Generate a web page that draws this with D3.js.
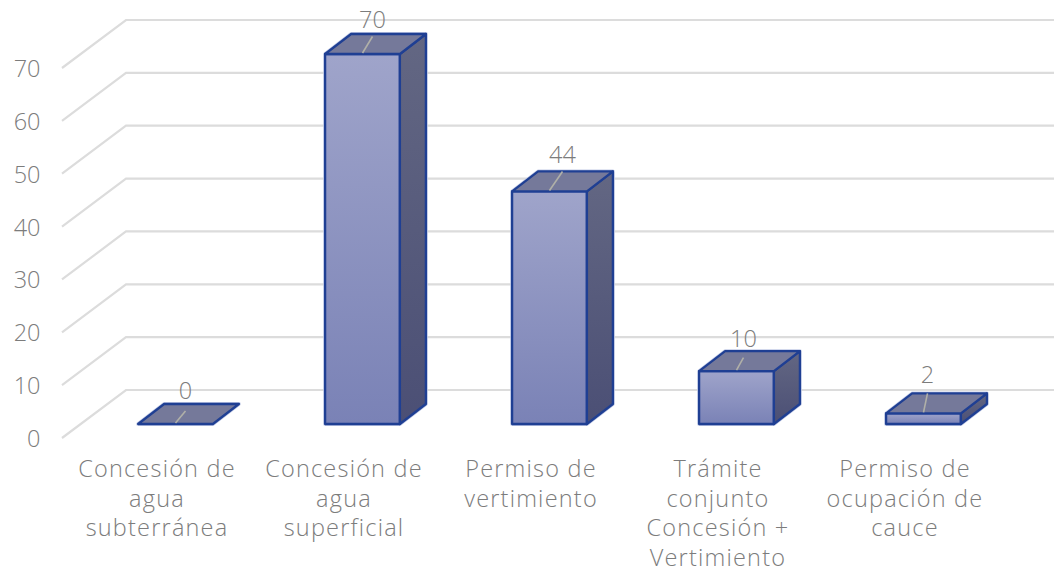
<!DOCTYPE html>
<html><head><meta charset="utf-8">
<script src="https://cdn.jsdelivr.net/npm/d3@7"></script>
<style>html,body{margin:0;padding:0;background:#fff}svg{display:block}
text{font-family:"Open Sans",sans-serif;font-weight:300;fill:#7c7c7c}</style></head><body>
<svg id="c" width="1054" height="568"></svg>
<script>
const categories=[["Concesión de","agua","subterránea"],["Concesión de","agua","superficial"],["Permiso de","vertimiento"],["Trámite","conjunto","Concesión +","Vertimiento"],["Permiso de","ocupación de","cauce"]];
const values=[0,70,44,10,2];
const yTicks=[0,10,20,30,40,50,60,70];
const leaderDx=[10,10,13,7,4];
const leaderRise=[13,17.5,20,13.5,20];
const labelGap=[25,26,28,24,30];
const W=1054,H=568;
const svg=d3.select("#c");
const y=d3.scaleLinear().domain([0,70]).range([424,54]);
const x=d3.scaleBand().domain(d3.range(5)).range([82,1017]).paddingInner(0.6).paddingOuter(0.3);
const dx=26,dy=-20;
const wallX=62,wallDx=64,wallDy=-48;
const defs=svg.append("defs");
const lg=(id,a,b)=>{const g=defs.append("linearGradient").attr("id",id).attr("x1",0).attr("x2",0).attr("y1",0).attr("y2",1);
 g.append("stop").attr("offset",0).attr("stop-color",a);g.append("stop").attr("offset",1).attr("stop-color",b);};
lg("front","#9fa4ca","#7a82b6");lg("side","#636783","#4b4f75");

const g=svg.append("g");
yTicks.forEach(t=>{
 const yb=y(t)+14;
 g.append("path").attr("d",`M${wallX},${yb}L${wallX+wallDx},${yb+wallDy}L${W},${yb+wallDy}`)
  .attr("fill","none").attr("stroke","#dcdcdc").attr("stroke-width",2.2);
 g.append("text").attr("x",40.5).attr("y",yb+9).attr("text-anchor","end").attr("font-size",23.5).text(t);
});
const bars=svg.append("g");
values.forEach((v,i)=>{
 const x0=x(i),x1=x0+x.bandwidth(),yt=y(v),yb=y(0);
 const b=bars.append("g").attr("stroke","#1f3f93").attr("stroke-width",2.3).attr("stroke-linejoin","round");
 b.append("path").attr("d",`M${x0},${yb}V${yt}L${x0+dx},${yt+dy}H${x1+dx}V${yb+dy}L${x1},${yb}Z`).attr("fill","none").attr("stroke","#c3cbe6").attr("stroke-width",3.8);
 if(v>0){
  b.append("rect").attr("x",x0).attr("y",yt).attr("width",x1-x0).attr("height",yb-yt).attr("fill","url(#front)");
  b.append("path").attr("d",`M${x1},${yt}L${x1+dx},${yt+dy}V${yb+dy}L${x1},${yb}Z`).attr("fill","url(#side)");
 }
 b.append("path").attr("d",`M${x0},${yt}L${x0+dx},${yt+dy}H${x1+dx}L${x1},${yt}Z`).attr("fill","#75799a");
 const cx=(x0+x1)/2;
 svg.append("line").attr("x1",cx).attr("y1",yt-1).attr("x2",cx+leaderDx[i]).attr("y2",yt-leaderRise[i])
  .attr("stroke","#b0b0a8").attr("stroke-width",1.6);
 svg.append("text").attr("x",cx+leaderDx[i]).attr("y",yt-labelGap[i]).attr("text-anchor","middle").attr("font-size",23.5).text(v);
});
categories.forEach((lines,i)=>{
 const cx=x(i)+x.bandwidth()/2-18.5;
 const t=svg.append("text").attr("text-anchor","middle").attr("font-size",23.5).attr("letter-spacing",1.2);
 lines.forEach((l,k)=>t.append("tspan").attr("x",cx).attr("y",477+k*29.6).text(l));
});
</script></body></html>
